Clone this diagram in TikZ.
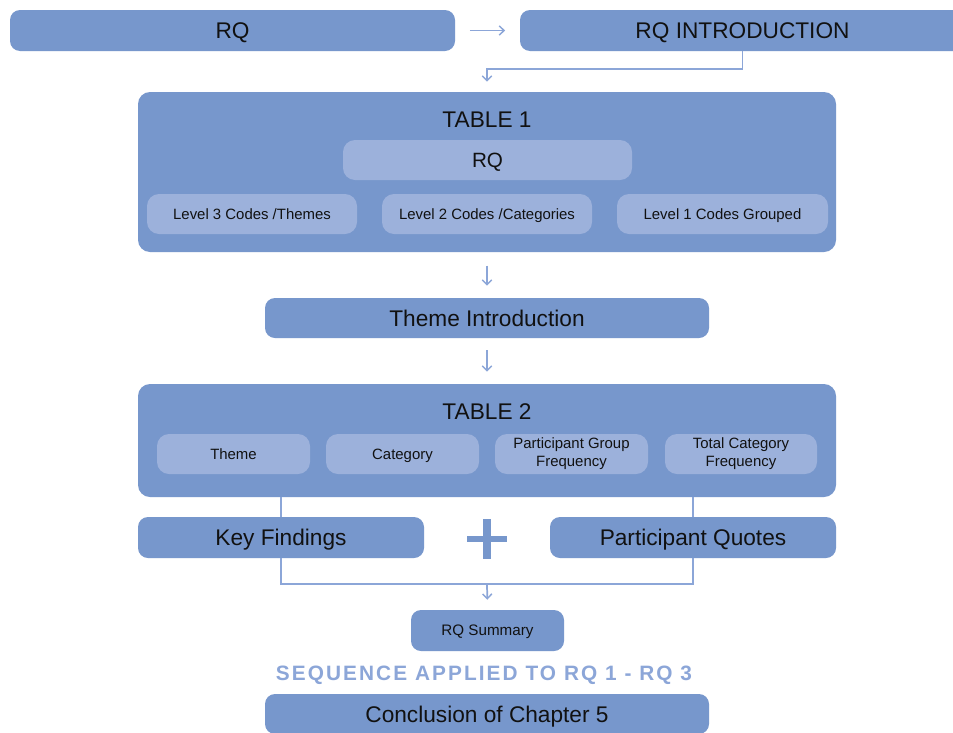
\documentclass[tikz,border=0pt]{standalone}
\usepackage{fontspec}
\setmainfont{Liberation Sans}
\usetikzlibrary{arrows.meta}
\definecolor{boxblue}{RGB}{119,151,204}
\definecolor{cellblue}{RGB}{156,177,219}
\definecolor{linkblue}{RGB}{140,166,216}
\definecolor{inkc}{RGB}{17,17,17}
\tikzset{
  wh/.style 2 args={minimum width=#1*0.75pt, minimum height=#2*0.75pt},
  capc/.style={text height=#1, text depth=0pt},
  box/.style={fill=boxblue, rounded corners=7.5pt, inner sep=0pt, capc=12.2pt,
    text=inkc, font=\fontsize{17}{20}\selectfont},
  panel/.style={fill=boxblue, rounded corners=9pt, inner sep=0pt},
  cell/.style={fill=cellblue, rounded corners=9pt, inner sep=0pt, text=inkc,
    align=center, font=\fontsize{11.2}{13.5}\selectfont},
  small/.style={box, capc=8.2pt, font=\fontsize{11.4}{13.5}\selectfont},
  title/.style={text=inkc, inner sep=0pt, capc=12.2pt, font=\fontsize{17}{20}\selectfont},
  link/.style={draw=linkblue, line width=1.3pt},
  arr/.style={link, -{Straight Barb[length=3.6pt,width=7pt,line width=1.1pt]}},
}
\begin{document}
\begin{tikzpicture}[x=0.75pt, y=-0.75pt]
\useasboundingbox (0,0) rectangle (953,732);
\clip (0,0) rectangle (953,732);
\fill[white] (0,0) rectangle (953,732);

% top row
\node[box, wh={445}{41}] (rq) at (232.5,30.5) {RQ};
\node[box, wh={445}{41}] (intro) at (742.5,30.5) {RQ INTRODUCTION};

% table 1
\node[panel, wh={698}{160}] (t1) at (487,172) {};
\node[title] (t1title) at (487,119.5) {TABLE 1};
\node[cell, capc=11.1pt, wh={289}{40}, font=\fontsize{15.5}{18}\selectfont] (t1rq) at (487.5,160) {RQ};
\node[cell, capc=8.1pt, wh={210}{40}] (l3) at (252,214) {Level 3 Codes /Themes};
\node[cell, capc=8.1pt, wh={210}{40}] (l2) at (487,214) {Level 2 Codes /Categories};
\node[cell, capc=8.1pt, wh={211}{40}] (l1) at (722.5,214) {Level 1 Codes Grouped};

\node[box, wh={444}{40}] (theme) at (487,318) {Theme Introduction};

% table 2
\node[panel, wh={698}{113}] (t2) at (487,440.5) {};
\node[title] (t2title) at (487,411.5) {TABLE 2};
\node[cell, capc=8.1pt, wh={153}{40}] (c1) at (233.5,454) {Theme};
\node[cell, capc=8.1pt, wh={153}{40}] (c2) at (402.5,454) {Category};
\node[cell, wh={153}{40}] (c3) at (571.5,454) {Participant Group\\Frequency};
\node[cell, wh={152}{40}] (c4) at (741,454) {Total Category\\Frequency};

\node[box, wh={286}{41}] (kf) at (281,537.5) {Key Findings};
\node[box, wh={286}{41}] (pq) at (693,537.5) {Participant Quotes};
\coordinate (plus) at (487,539);
\coordinate (merge) at (487,584);

\node[small, wh={153}{41}] (sum) at (487.5,630.5) {RQ Summary};
\node[text=linkblue, inner sep=0pt, capc=11.2pt,
  font=\fontsize{15.6}{18}\selectfont\bfseries\addfontfeatures{LetterSpace=10}]
  (seq) at (484,673) {SEQUENCE APPLIED TO RQ 1 - RQ 3};
\node[box, wh={444}{40}] (concl) at (487,714) {Conclusion of Chapter 5};

% connectors
\draw[arr, shorten <=11pt, shorten >=11pt] (rq.east) -- (intro.west);
\draw[arr] (intro.south) |- (487,69) -- ([yshift=7.5pt]t1.north -| 487,0);
\draw[arr, shorten <=10pt, shorten >=9pt] (t1.south -| theme.north) -- (theme.north);
\draw[arr, shorten <=9pt, shorten >=9pt] (theme.south) -- (t2.north -| theme.south);
\draw[link] (t2.south -| kf.north) -- (kf.north);
\draw[link] (t2.south -| pq.north) -- (pq.north);
\draw[link] (kf.south) |- (merge) -| (pq.south);
\draw[arr, shorten >=7.5pt] (merge) -- (sum.north);

% plus sign between the two result boxes
\fill[boxblue] ([xshift=-15pt,yshift=-2.6pt]plus) rectangle ([xshift=15pt,yshift=2.6pt]plus);
\fill[boxblue] ([xshift=-3pt,yshift=-15pt]plus) rectangle ([xshift=3pt,yshift=15pt]plus);
\end{tikzpicture}
\end{document}
